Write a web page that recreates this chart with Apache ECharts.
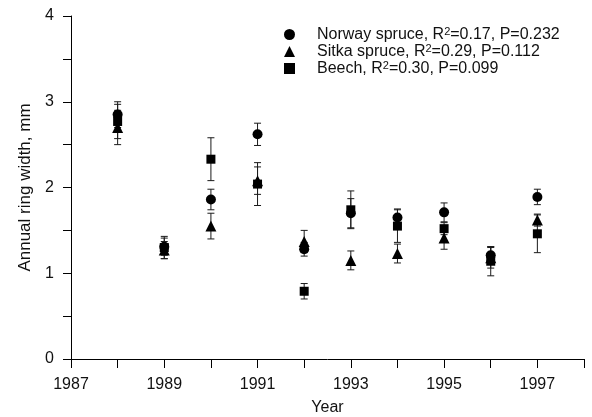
<!DOCTYPE html>
<html>
<head>
<meta charset="utf-8">
<script src="https://cdn.jsdelivr.net/npm/echarts@6/dist/echarts.min.js"></script>
<style>
  html, body { margin: 0; padding: 0; background: #fff; }
  #chart { width: 592px; height: 417px; }
</style>
</head>
<body>
<div id="chart"></div>
<script>
// Annual ring width by year, mean ± error for three tree species
const years = [1988, 1989, 1990, 1991, 1992, 1993, 1994, 1995, 1996, 1997];

const norway    = [2.85, 1.31, 1.86, 2.62, 1.28, 1.70, 1.65, 1.71, 1.21, 1.89];
const norwayErr = [0.15, 0.10, 0.12, 0.13, 0.08, 0.17, 0.10, 0.11, 0.10, 0.09];

const sitka     = [2.70, 1.27, 1.55, 2.08, 1.37, 1.15, 1.23, 1.41, 1.18, 1.62];
const sitkaErr  = [0.20, 0.10, 0.15, 0.16, 0.13, 0.11, 0.11, 0.13, 0.12, 0.07];

const beech     = [2.77, 1.30, 2.33, 2.04, 0.79, 1.74, 1.55, 1.52, 1.14, 1.46];
const beechErr  = [0.20, 0.13, 0.25, 0.25, 0.09, 0.22, 0.19, 0.07, 0.17, 0.22];

const seriesNames = [
  'Norway spruce|0.17|0.232',
  'Sitka spruce|0.29|0.112',
  'Beech|0.30|0.099'
];

const yTicks = [0, 1, 2, 3, 4];

const INK = '#000';
const TXT = '#111';
const FONT = 'Liberation Sans, Arial, sans-serif';

function points(vals) {
  return years.map((y, i) => [y, vals[i]]);
}
function errRanges(vals, errs) {
  return years.map((y, i) => [y, vals[i] - errs[i], vals[i] + errs[i]]);
}

// vertical whisker with short caps
function renderErr(params, api) {
  const x = api.value(0);
  const lo = api.coord([x, api.value(1)]);
  const hi = api.coord([x, api.value(2)]);
  const cap = 3.5;
  const style = { stroke: '#1a1a1a', lineWidth: 1 };
  return {
    type: 'group',
    children: [
      { type: 'line', shape: { x1: lo[0], y1: lo[1], x2: hi[0], y2: hi[1] }, style },
      { type: 'line', shape: { x1: hi[0] - cap, y1: hi[1], x2: hi[0] + cap, y2: hi[1] }, style },
      { type: 'line', shape: { x1: lo[0] - cap, y1: lo[1], x2: lo[0] + cap, y2: lo[1] }, style }
    ]
  };
}

function errSeries(vals, errs) {
  return {
    type: 'custom',
    renderItem: renderErr,
    data: errRanges(vals, errs),
    encode: { x: 0, y: [1, 2] },
    silent: true,
    z: 1
  };
}

function scatter(name, vals, symbol, size) {
  return {
    name: name,
    type: 'scatter',
    data: points(vals),
    symbol: symbol,
    symbolSize: size,
    itemStyle: { color: INK, opacity: 1 },
    z: 3
  };
}

const chart = echarts.init(document.getElementById('chart'), null, { renderer: 'canvas' });

chart.setOption({
  animation: false,
  backgroundColor: '#fff',
  grid: { left: 71, right: 8, top: 16, bottom: 58, outerBoundsMode: 'none', containLabel: false },
  legend: {
    orient: 'vertical',
    left: 279,
    top: 21,
    itemWidth: 11,
    itemHeight: 11,
    itemGap: 0,
    selectedMode: false,
    data: seriesNames.map(n => ({ name: n, itemStyle: { color: INK, opacity: 1 } })),
    formatter: function (name) {
      const p = name.split('|');
      return '{a|' + p[0] + ', R}{s|2}{a|=' + p[1] + ', P=' + p[2] + '}';
    },
    textStyle: {
      padding: [0, 0, 0, 17],
      rich: {
        a: { fontFamily: FONT, fontSize: 16, color: TXT, lineHeight: 17 },
        s: { fontFamily: FONT, fontSize: 11, color: TXT, lineHeight: 11, padding: [0, 0, 6, 0] }
      }
    }
  },
  xAxis: {
    type: 'value',
    min: 1987,
    max: 1998,
    interval: 1,
    name: 'Year',
    nameLocation: 'middle',
    nameGap: 41,
    nameTextStyle: { fontFamily: FONT, fontSize: 16, color: TXT },
    axisLine: { show: true, onZero: false, lineStyle: { color: INK, width: 1 } },
    axisTick: { show: true, inside: false, length: 9, lineStyle: { color: INK } },
    axisLabel: {
      fontFamily: FONT, fontSize: 16, color: TXT, margin: 18,
      showMaxLabel: true,
      formatter: function (v) {
        return ((v - 1987) % 2 === 0 && v < 1998) ? String(v) : '';
      }
    },
    splitLine: { show: false }
  },
  yAxis: {
    type: 'value',
    min: yTicks[0],
    max: yTicks[yTicks.length - 1],
    interval: 1,
    name: 'Annual ring width, mm',
    nameLocation: 'middle',
    nameGap: 31,
    nameTextStyle: { fontFamily: FONT, fontSize: 17, color: TXT },
    axisLine: { show: true, lineStyle: { color: INK, width: 1 } },
    axisTick: { show: true, inside: false, length: 8, lineStyle: { color: INK } },
    minorTick: { show: true, splitNumber: 2, length: 8, lineStyle: { color: INK } },
    axisLabel: { fontFamily: FONT, fontSize: 16, color: TXT, margin: 17 },
    splitLine: { show: false }
  },
  series: [
    errSeries(norway, norwayErr),
    errSeries(sitka, sitkaErr),
    errSeries(beech, beechErr),
    scatter(seriesNames[0], norway, 'circle', 10),
    scatter(seriesNames[1], sitka, 'triangle', 11),
    scatter(seriesNames[2], beech, 'rect', 9)
  ]
});
</script>
</body>
</html>
